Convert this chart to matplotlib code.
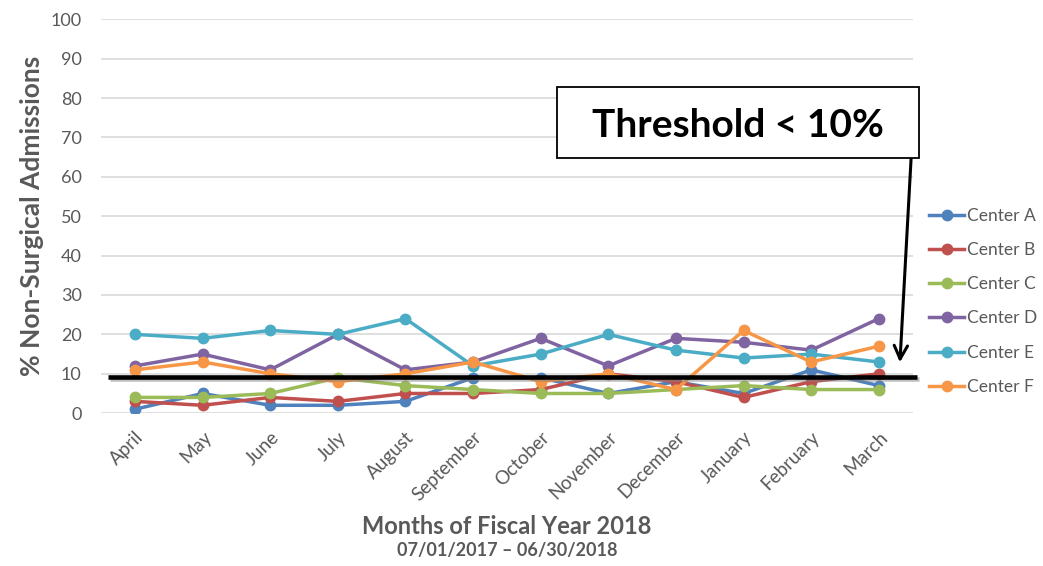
import numpy as np
import matplotlib.pyplot as plt
import matplotlib.patheffects as pe
from matplotlib.patches import Rectangle

plt.rcParams['font.family'] = ['Lato', 'DejaVu Sans']

months = ['April', 'May', 'June', 'July', 'August', 'September', 'October',
          'November', 'December', 'January', 'February', 'March']

center_a = [1, 5, 2, 2, 3, 9, 9, 5, 8, 5, 11, 7]
center_b = [3, 2, 4, 3, 5, 5, 6, 10, 8, 4, 8, 10]
center_c = [4, 4, 5, 9, 7, 6, 5, 5, 6, 7, 6, 6]
center_d = [12, 15, 11, 20, 11, 13, 19, 12, 19, 18, 16, 24]
center_e = [20, 19, 21, 20, 24, 12, 15, 20, 16, 14, 15, 13]
center_f = [11, 13, 10, 8, 10, 13, 8, 10, 6, 21, 13, 17]

series_names = ['Center A', 'Center B', 'Center C', 'Center D', 'Center E', 'Center F']
series_values = [center_a, center_b, center_c, center_d, center_e, center_f]
colors = ['#4F81BD', '#C0504D', '#9BBB59', '#8064A2', '#4BACC6', '#F79646']

threshold = 9.3
gray = '#595959'

fig = plt.figure(figsize=(10.43, 5.66), dpi=100)
ax = fig.add_axes([0.097, 0.270, 0.778, 0.696])

x = np.arange(len(months))
for name, vals, c in zip(series_names, series_values, colors):
    ax.plot(x, vals, color=c, lw=2.5, marker='o', markersize=7.5, label=name, zorder=3)

# threshold line with a soft shadow
ax.plot([-0.4, 11.57], [threshold, threshold], color='black', lw=3.3, zorder=4,
        solid_capstyle='butt', clip_on=False,
        path_effects=[pe.SimpleLineShadow(offset=(1.5, -2), shadow_color='gray', alpha=0.5),
                      pe.Normal()])

ax.set_xlim(-0.5, 11.5)
ax.set_ylim(0, 100)
ax.set_yticks(range(0, 101, 10))
ax.set_xticks(x)
ax.set_xticklabels(months, rotation=45, ha='right', rotation_mode='anchor')
ax.tick_params(axis='both', length=0, labelsize=13, labelcolor=gray)
ax.tick_params(axis='x', pad=11, labelsize=13.5)
ax.tick_params(axis='y', pad=14)
ax.grid(axis='y', color='#D9D9D9', lw=1.2)
ax.set_axisbelow(True)
for s in ax.spines.values():
    s.set_visible(False)

ax.set_ylabel('% Non-Surgical Admissions', fontsize=19, fontweight='bold', color=gray, labelpad=5)

fig.text(0.486, 0.069, 'Months of Fiscal Year 2018', ha='center', va='center',
         fontsize=17, fontweight='bold', color=gray)
fig.text(0.486, 0.027, '07/01/2017 \u2013 06/30/2018', ha='center', va='center',
         fontsize=13, fontweight='bold', color=gray)

# threshold callout box
fig.patches.append(Rectangle((0.534, 0.721), 0.347, 0.125, transform=fig.transFigure,
                             fc='white', ec='black', lw=1.3, zorder=5))
fig.text(0.7075, 0.779, 'Threshold < 10%', ha='center', va='center', fontsize=28,
         fontweight='bold', color='black', zorder=6)
ax.annotate('', xy=(11.31, 12.2), xytext=(11.48, 65.5),
            arrowprops=dict(arrowstyle='->', color='black', lw=2.2, mutation_scale=24),
            annotation_clip=False)

leg = ax.legend(loc='center left', bbox_to_anchor=(1.012, 0.284), frameon=False,
                borderaxespad=0, borderpad=0.4, fontsize=12.5, labelspacing=1.05,
                handlelength=2.0, handletextpad=0.15)
for t in leg.get_texts():
    t.set_color(gray)

fig.savefig('out.png', dpi=100)
